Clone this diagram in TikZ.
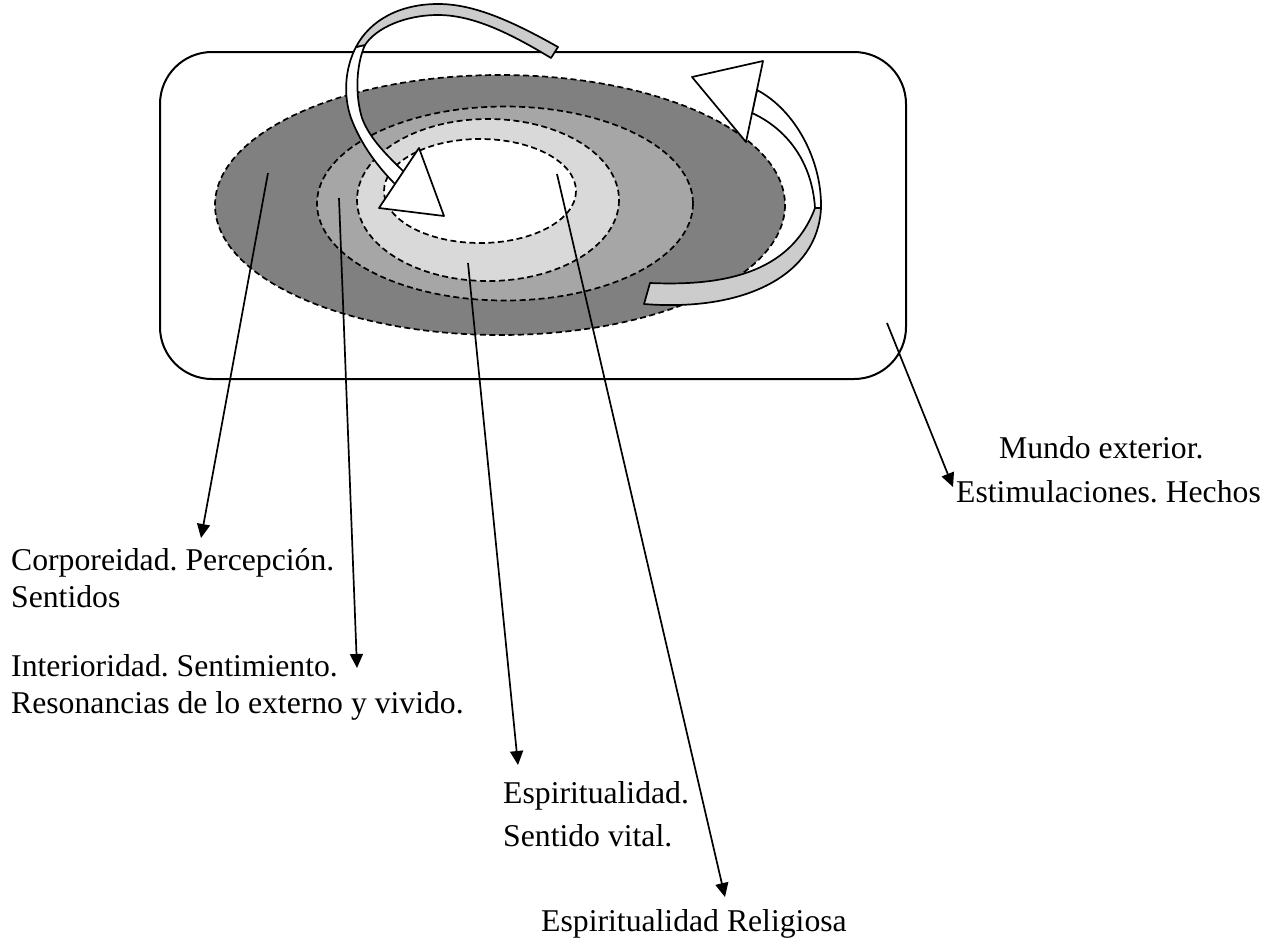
\documentclass[tikz,border=0pt]{standalone}
\usepackage{fontspec}
\setmainfont{Liberation Serif}
\usetikzlibrary{arrows.meta}
\definecolor{ringOuter}{HTML}{808080}
\definecolor{ringMid}{HTML}{A6A6A6}
\definecolor{ringInner}{HTML}{D9D9D9}
\definecolor{bandGray}{HTML}{CCCCCC}
\frenchspacing
\begin{document}
\begin{tikzpicture}[x=1pt,y=-1pt,
  lbl/.style={anchor=base west, inner sep=0pt, font=\fontsize{31.7}{37}\selectfont},
  ring/.style={draw=black, line width=1.7pt, dash pattern=on 6pt off 3.5pt},
  pointer/.style={draw=black, line width=1.7pt, -{Triangle[length=14pt,width=13pt]}},
  band/.style={draw=black, line width=1.7pt, line join=round},
]
\useasboundingbox (0,0) rectangle (1279,938);
\fill[white] (0,0) rectangle (1279,938);

% outer world frame
\draw[line width=2pt, rounded corners=52pt] (160,52) rectangle (906,379);

% concentric rings
\filldraw[ring, fill=ringOuter] (500,205) ellipse [x radius=285, y radius=130];
\filldraw[ring, fill=ringMid]   (505,203.5) ellipse [x radius=188, y radius=97];
\filldraw[ring, fill=ringInner] (488,200) ellipse [x radius=131, y radius=81];
\filldraw[ring, fill=white]     (480,191) ellipse [x radius=96, y radius=52];

% curved block arrow 1 (top, entering)
\filldraw[band, fill=white] (356,47) .. controls (345,68) and (343,95) .. (351,118)
  .. controls (361,145) and (379,168) .. (395,184) -- (404,172)
  .. controls (390,158) and (370,140) .. (362,118)
  .. controls (355,95) and (356,65) .. (365,45) -- cycle;
\filldraw[band, fill=bandGray] (558,47) .. controls (505,17) and (470,4) .. (438,4)
  .. controls (400,4) and (370,20) .. (356,47) -- (365,45)
  .. controls (376,28) and (405,15) .. (438,15)
  .. controls (470,15) and (505,30) .. (551,58) -- cycle;
\filldraw[band, fill=white] (419,148) -- (379,208) -- (444,216) -- cycle;

% curved block arrow 2 (right, going out)
\filldraw[band, fill=bandGray] (650,283) .. controls (720,286) and (790,275) .. (815,208)
  -- (821,208) .. controls (818,275) and (745,312) .. (644,304) -- cycle;
\filldraw[band, fill=white] (821,208) .. controls (822,160) and (795,110) .. (757,90)
  -- (752,113) .. controls (785,128) and (812,160) .. (815,208) -- cycle;
\filldraw[band, fill=white] (692,77) -- (763,61) -- (746,142) -- cycle;

% pointer anchors
\coordinate (sCorp) at (268,173);
\coordinate (eCorp) at (201,538);
\coordinate (sInt)  at (339,198);
\coordinate (eInt)  at (357,668);
\coordinate (sEsp)  at (468,263);
\coordinate (eEsp)  at (518,765);
\coordinate (sRel)  at (557,174);
\coordinate (eRel)  at (725,897);
\coordinate (sMun)  at (887,323);
\coordinate (eMun)  at (953,487);

\draw[pointer] (sCorp) -- (eCorp);
\draw[pointer] (sInt) -- (eInt);
\draw[pointer] (sEsp) -- (eEsp);
\draw[pointer] (sRel) -- (eRel);
\draw[pointer] (sMun) -- (eMun);

% labels
\node[lbl] (corpA) at (11,570) {Corporeidad. Percepción.};
\node[lbl] (corpB) at (11,607) {Sentidos};
\node[lbl] (intA)  at (11,676) {Interioridad. Sentimiento.};
\node[lbl] (intB)  at (11,713) {Resonancias de lo externo y vivido.};
\node[lbl] (espA)  at (503,803) {Espiritualidad.};
\node[lbl] (espB)  at (503,846) {Sentido vital.};
\node[lbl] (rel)   at (541,931) {Espiritualidad Religiosa};
\node[lbl] (munA)  at (999,458) {Mundo exterior.};
\node[lbl] (munB)  at (956,502) {Estimulaciones. Hechos};
\end{tikzpicture}
\end{document}
